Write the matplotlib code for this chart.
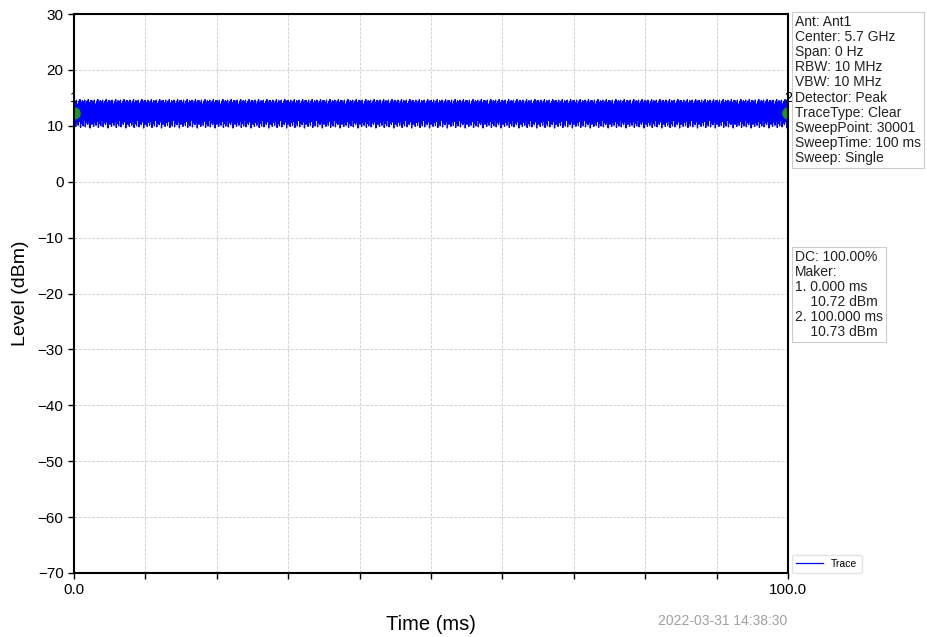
import numpy as np
import matplotlib
matplotlib.use("Agg")
import matplotlib.pyplot as plt

plt.rcParams['font.family'] = ['Liberation Sans', 'DejaVu Sans']

# ---- data ----
sweep_ms = [0.0, 100.0]
# repeating pattern of trace levels (dBm) as seen in the dense trace
trace_pattern = [14.5, 10.3, 14.2, 9.9, 14.6, 10.6, 13.9, 10.1, 14.4, 10.8,
                 14.7, 9.7, 14.1, 10.4, 14.5, 10.0, 14.3, 11.0, 14.6, 9.8,
                 14.0, 10.5, 14.4, 10.2, 14.7, 10.7, 14.2, 9.6, 14.5, 10.3]
n_repeats = 40
marker_x = [0.0, 100.0]
marker_y = [12.3, 12.3]
marker_labels = ['1', '2']
y_ticks = [30, 20, 10, 0, -10, -20, -30, -40, -50, -60, -70]
x_ticks = [0, 10, 20, 30, 40, 50, 60, 70, 80, 90, 100]
x_ticklabels = ['0.0', '', '', '', '', '', '', '', '', '', '100.0']

info_text = ("Ant: Ant1\nCenter: 5.7 GHz\nSpan: 0 Hz\nRBW: 10 MHz\nVBW: 10 MHz\n"
             "Detector: Peak\nTraceType: Clear\nSweepPoint: 30001\n"
             "SweepTime: 100 ms\nSweep: Single")
marker_text = ("DC: 100.00%\nMaker:\n1. 0.000 ms\n    10.72 dBm\n"
               "2. 100.000 ms\n    10.73 dBm")
timestamp = "2022-03-31 14:38:30"

levels = np.tile(trace_pattern, n_repeats)
t = np.linspace(sweep_ms[0], sweep_ms[1], len(levels))

fig = plt.figure(figsize=(9.27, 6.37), dpi=100)
ax = fig.add_axes([74/927, 1-573/637, (788-74)/927, (573-14)/637])

ax.plot(t, levels, color='#0000ff', lw=0.9, label='Trace')
ax.plot(marker_x, marker_y, 'o', color='#1a9a1a', ms=8, clip_on=True)
for mx, my, lab in zip(marker_x, marker_y, marker_labels):
    ax.text(mx, my + 2.6, lab, fontsize=10.5, ha='center', va='center', clip_on=False)

ax.set_xlim(0, 100)
ax.set_ylim(-70, 30)
ax.set_yticks(y_ticks)
ax.set_xticks(x_ticks)
ax.set_xticklabels(x_ticklabels)
ax.tick_params(labelsize=11, length=4, width=1)
ax.grid(True, linestyle='--', color='#cccccc', lw=0.6)
for s in ax.spines.values():
    s.set_linewidth(1.5)

ax.set_xlabel('Time (ms)', fontsize=14.5, labelpad=13)
ax.set_ylabel('Level (dBm)', fontsize=14, labelpad=6)

box = dict(boxstyle='square,pad=0.2', fc='white', ec='#cccccc', lw=0.8)
fig.text(795/927, 1-15/637, info_text, fontsize=10, va='top', ha='left',
         linespacing=1.1, color='#222222', bbox=box)
fig.text(795/927, 1-250/637, marker_text, fontsize=10, va='top', ha='left',
         linespacing=1.1, color='#222222', bbox=box)
fig.text(787/927, 1-621/637, timestamp, fontsize=10, color='#a0a0a0',
         ha='right', va='center')

leg = ax.legend(loc='lower left', bbox_to_anchor=(1.005, 0.0), fontsize=7.5,
                frameon=True, handlelength=2.6, borderaxespad=0.0)
leg.get_frame().set_edgecolor('#dddddd')

fig.savefig('out.png', dpi=100)
